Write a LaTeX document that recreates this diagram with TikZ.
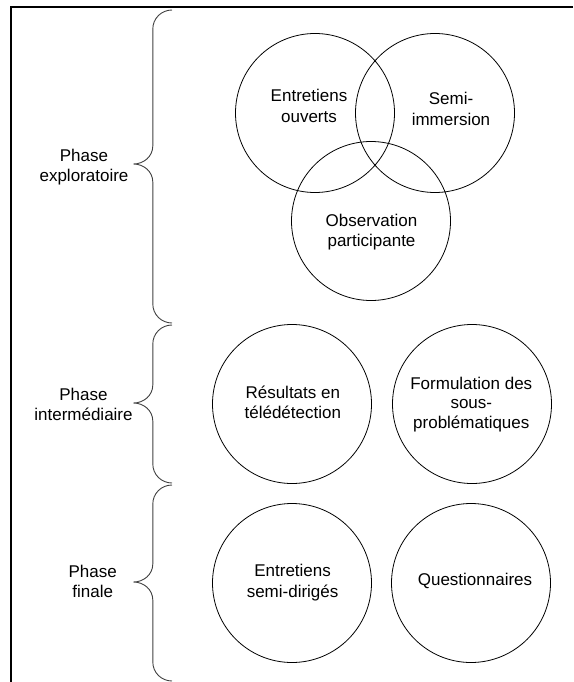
\documentclass[tikz,border=0pt]{standalone}
\usepackage{fontspec}
\setmainfont{Liberation Sans}
\begin{document}
\begin{tikzpicture}[x=1pt,y=-1pt,
  circ/.style={draw=black,line width=0.8pt,circle,minimum size=159pt,inner sep=0pt},
  txt/.style={anchor=base,inner sep=0pt,font=\fontsize{17}{20}\selectfont},
  brace/.style={draw=black!75,line width=0.9pt},
  frame/.style={draw=black,line width=2pt}]
\useasboundingbox (0,0) rectangle (573,682);
% frame
\draw[frame] (573,7) -- (11,7) -- (11,682);
% circles
\node[circ] (ca) at (315,113) {};
\node[circ] (cb) at (435,113) {};
\node[circ] (cc) at (371,221) {};
\node[circ] (cd) at (292,404) {};
\node[circ] (ce) at (472,404) {};
\node[circ] (cf) at (292,583) {};
\node[circ] (cg) at (471,583) {};
% braces
\draw[brace] (172,10) to[out=180,in=90] (152.8,29) -- (152.8,146)
  to[out=-90,in=0] (133.5,164) to[out=0,in=90] (152.8,182) -- (152.8,304)
  to[out=-90,in=180] (172,323);
\draw[brace] (172,325) to[out=180,in=90] (152.8,344) -- (152.8,385)
  to[out=-90,in=0] (133.5,403) to[out=0,in=90] (152.8,421) -- (152.8,464)
  to[out=-90,in=180] (172,483);
\draw[brace] (172,485) to[out=180,in=90] (152.8,504) -- (152.8,564)
  to[out=-90,in=0] (133.5,582) to[out=0,in=90] (152.8,600) -- (152.8,662)
  to[out=-90,in=180] (172,681);
% phase labels
\node[txt] (p1a) at (84,161.5) {Phase};
\node[txt] (p1b) at (84,181) {exploratoire};
\node[txt] (p2a) at (83.5,400.5) {Phase};
\node[txt] (p2b) at (83.5,420) {intermédiaire};
\node[txt] (p3a) at (92.7,577.3) {Phase};
\node[txt] (p3b) at (92.7,597.3) {finale};
% circle labels
\node[txt] (ta1) at (309,102) {Entretiens};
\node[txt] (ta2) at (309,122.3) {ouverts};
\node[txt] (tb1) at (451,105) {Semi-};
\node[txt] (tb2) at (451,125) {immersion};
\node[txt] (tc1) at (371.5,226) {Observation};
\node[txt] (tc2) at (371.5,246) {participante};
\node[txt] (td1) at (292.8,398.3) {Résultats en};
\node[txt] (td2) at (292.8,418.3) {télédétection};
\node[txt] (te1) at (471.3,389.5) {Formulation des};
\node[txt] (te2) at (471.3,408.8) {sous-};
\node[txt] (te3) at (471.3,428.3) {problématiques};
\node[txt] (tf1) at (292.6,576.7) {Entretiens};
\node[txt] (tf2) at (292.6,597) {semi-dirigés};
\node[txt] (tg1) at (475,585) {Questionnaires};
\end{tikzpicture}
\end{document}
